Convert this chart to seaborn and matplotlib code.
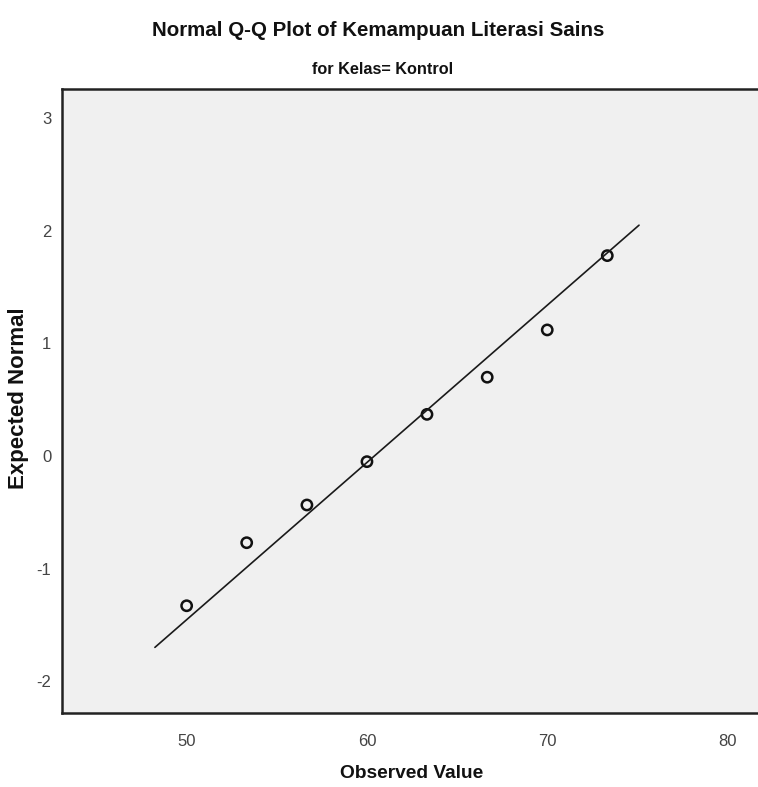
import numpy as np
import pandas as pd
import matplotlib
matplotlib.use("Agg")
import matplotlib.pyplot as plt
import seaborn as sns

# Observed scores and their expected normal quantiles
observed = [50.00, 53.33, 56.67, 60.00, 63.33, 66.67, 70.00, 73.33]
expected = [-1.33, -0.77, -0.435, -0.05, 0.37, 0.70, 1.12, 1.78]

# Reference line: (x - mean) / sd drawn across this range
line_mean = 60.41
line_sd = 7.16
line_x = [48.24, 75.09]

x_ticks = [50, 60, 70, 80]
y_ticks = [-2, -1, 0, 1, 2, 3]

sns.set_style("white")
plt.rcParams["font.family"] = ["Liberation Sans Narrow", "Liberation Sans", "DejaVu Sans"]

points = pd.DataFrame({"Observed": observed, "Expected": expected})
ref = pd.DataFrame({"x": line_x})
ref["y"] = (ref["x"] - line_mean) / line_sd

W, H = 758, 787
left_px, top_px, bottom_px, right_px = 61.7, 89.0, 712.7, 766.0
fig = plt.figure(figsize=(W / 100, H / 100), dpi=100)
ax = fig.add_axes([left_px / W, 1 - bottom_px / H,
                   (right_px - left_px) / W, (bottom_px - top_px) / H])
ax.set_facecolor("#f0f0f0")

sns.lineplot(data=ref, x="x", y="y", ax=ax, color="#1a1a1a", linewidth=1.2)
sns.scatterplot(data=points, x="Observed", y="Expected", ax=ax, marker="o",
                s=55, facecolor="none", edgecolor="#111111", linewidth=1.8)

x_per_px = 1 / 18.03
ax.set_xlim(43.07, 43.07 + (right_px - left_px) * x_per_px)
ax.set_ylim(-2.28, 3.26)
ax.set_xticks(x_ticks)
ax.set_yticks(y_ticks)
ax.set_xticklabels([str(t) for t in x_ticks])
ax.set_yticklabels([str(t) for t in y_ticks])
ax.tick_params(axis="x", direction="out", length=9, width=1.2, colors="#222222",
               labelcolor="#444444", labelsize=12, pad=6)
ax.tick_params(axis="y", direction="out", length=6.5, width=1.2, colors="#222222",
               labelcolor="#444444", labelsize=12, pad=1)

for side in ["left", "bottom", "top", "right"]:
    ax.spines[side].set_color("#222222")
    ax.spines[side].set_linewidth(1.8)

ax.set_xlabel("")
ax.set_ylabel("")
fig.text(412 / W, 1 - 773 / H, "Observed Value", ha="center", va="center",
         fontsize=13.8, fontweight="bold", color="#111111")
fig.text(19 / W, 1 - 398 / H, "Expected Normal", rotation=90, ha="center",
         va="center", fontsize=16, fontweight="bold", color="#111111",
         family=["Liberation Sans", "DejaVu Sans"])

fig.text(378 / W, 1 - 30 / H, "Normal Q-Q Plot of Kemampuan Literasi Sains",
         ha="center", va="center", fontsize=14.8, fontweight="bold", color="#111111")
fig.text(383 / W, 1 - 70 / H, "for Kelas= Kontrol",
         ha="center", va="center", fontsize=11.7, fontweight="bold", color="#111111")

fig.savefig("out.png", dpi=100)
